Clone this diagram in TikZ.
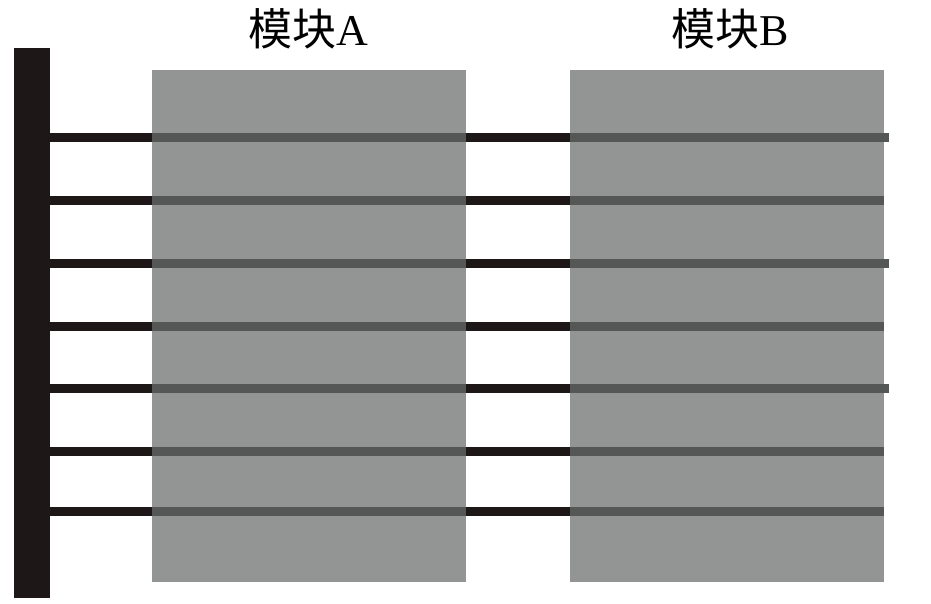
\documentclass[tikz,border=0pt]{standalone}
\usepackage{fontspec}
\setmainfont{Liberation Serif}
\newfontfamily\cjk{Noto Sans CJK SC}
\usetikzlibrary{positioning}

\definecolor{barblack}{HTML}{1E1717}
\definecolor{boxgray}{HTML}{939595}
\definecolor{pingray}{HTML}{555656}

\tikzset{
  module/.style={fill=boxgray, draw=none, minimum width=314pt, minimum height=512pt,
    inner sep=0pt, anchor=north west},
  label/.style={inner sep=0pt, anchor=base},
  wire/.style={line width=9pt, barblack},
  pin/.style={line width=9pt, pingray}
}
\newcommand{\modname}[1]{{\cjk\fontsize{44}{44}\selectfont 模块}{\fontsize{44}{44}\selectfont #1}}

\begin{document}
\begin{tikzpicture}[x=1pt,y=-1pt]
\useasboundingbox (0,0) rectangle (931,603);
% bus bar and the two modules
\node[fill=barblack, minimum width=36pt, minimum height=550pt, inner sep=0pt,
  anchor=north west] (bar) at (14,48) {};
\node[module] (boxA) at (152,70) {};
\node[module] (boxB) at (570,70) {};

\node[label] (nameA) at (308,45) {\modname{A}};
\node[label] (nameB) at (730,45) {\modname{B}};

% the seven lines
\foreach \y/\ext in {137/5,200/0,263/5,326/0,388/5,451/0,511/0}{
  \coordinate (l) at (bar.east |- 0,\y);
  \coordinate (aw) at (boxA.west |- 0,\y);
  \coordinate (ae) at (boxA.east |- 0,\y);
  \coordinate (bw) at (boxB.west |- 0,\y);
  \coordinate (be) at ([xshift=\ext pt]boxB.east |- 0,\y);
  \draw[wire] (l) -- (aw);
  \draw[pin] (aw) -- (ae);
  \draw[wire] (ae) -- (bw);
  \draw[pin] (bw) -- (be);
}
\end{tikzpicture}
\end{document}
